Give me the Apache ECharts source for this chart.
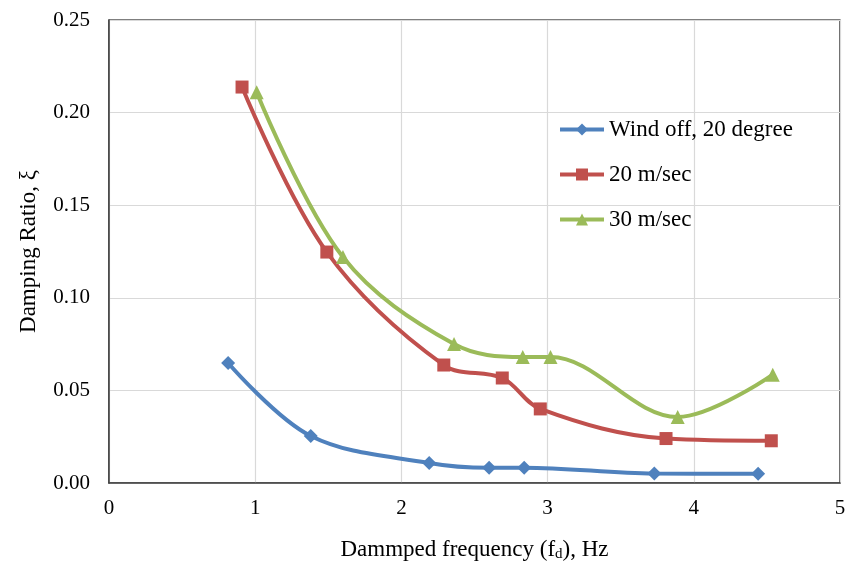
<!DOCTYPE html>
<html><head><meta charset="utf-8">
<script src="https://cdn.jsdelivr.net/npm/echarts@6/dist/echarts.min.js"></script>
<style>html,body{margin:0;padding:0;background:#fff}#c{width:847px;height:561px}</style>
</head><body><div id="c"></div>
<script>
const seriesNames = ['Wind off, 20 degree', '20 m/sec', '30 m/sec'];
const windOffX = [0.815, 1.38, 2.19, 2.60, 2.84, 3.73, 4.44];
const windOffY = [0.0648, 0.0254, 0.0108, 0.0082, 0.0083, 0.0051, 0.0050];
const ms20X = [0.91, 1.49, 2.29, 2.69, 2.95, 3.81, 4.53];
const ms20Y = [0.2138, 0.1247, 0.0637, 0.0567, 0.0400, 0.0240, 0.0228];
const ms30X = [1.01, 1.60, 2.36, 2.83, 3.02, 3.89, 4.54];
const ms30Y = [0.211, 0.122, 0.075, 0.068, 0.068, 0.0356, 0.0585];
const colors = ['#4F81BD', '#C0504D', '#9BBB59'];
const symbols = ['diamond', 'rect', 'triangle'];
const symbolSizes = [14, 13, 14];

const pairs = (xs, ys) => xs.map((x, i) => [x, ys[i]]);
const datasets = [pairs(windOffX, windOffY), pairs(ms20X, ms20Y), pairs(ms30X, ms30Y)];
const font = '"Liberation Serif", "Times New Roman", serif';

const chart = echarts.init(document.getElementById('c'));
chart.setOption({
  animation: false,
  color: colors,
  textStyle: { fontFamily: font },
  grid: { left: 109, right: 7, top: 20, bottom: 78, outerBoundsMode: 'none', containLabel: false,
    show: true, borderColor: '#000', borderWidth: 1.2 },
  legend: {
    orient: 'vertical', left: 553, top: 113, itemGap: 22, itemWidth: 44, itemHeight: 15,
    lineStyle: { width: 4 },
    textStyle: { fontFamily: font, fontSize: 23, color: '#000' },
    data: seriesNames
  },
  xAxis: {
    type: 'value', min: 0, max: 5, interval: 1,
    name: 'Dammped frequency (f{sub|d}), Hz',
    nameLocation: 'middle', nameGap: 54,
    nameTextStyle: { fontFamily: font, fontSize: 23, color: '#000',
      rich: { sub: { fontFamily: font, fontSize: 15, color: '#000', verticalAlign: 'bottom', padding: [10, 0, 0, 0] } } },
    axisLine: { lineStyle: { color: '#404040', width: 1.5 } },
    axisTick: { show: false },
    axisLabel: { fontFamily: font, fontSize: 21, color: '#000', margin: 15 },
    splitLine: { lineStyle: { color: '#d9d9d9', width: 1.2 } }
  },
  yAxis: {
    type: 'value', min: 0, max: 0.25, interval: 0.05,
    name: 'Damping Ratio, ξ',
    nameLocation: 'middle', nameGap: 69,
    nameTextStyle: { fontFamily: font, fontSize: 23, color: '#000' },
    axisLine: { show: true, lineStyle: { color: '#404040', width: 1.5 } },
    axisTick: { show: false },
    axisLabel: { fontFamily: font, fontSize: 21, color: '#000', margin: 19, formatter: v => v.toFixed(2) },
    splitLine: { lineStyle: { color: '#d9d9d9', width: 1.2 } }
  },
  series: datasets.map((d, i) => ({
    name: seriesNames[i], type: 'line', data: d, smooth: 0.35,
    symbol: symbols[i], symbolSize: symbolSizes[i], showSymbol: true,
    lineStyle: { width: 4, color: colors[i] },
    itemStyle: { color: colors[i] }
  }))
});
</script></body></html>
